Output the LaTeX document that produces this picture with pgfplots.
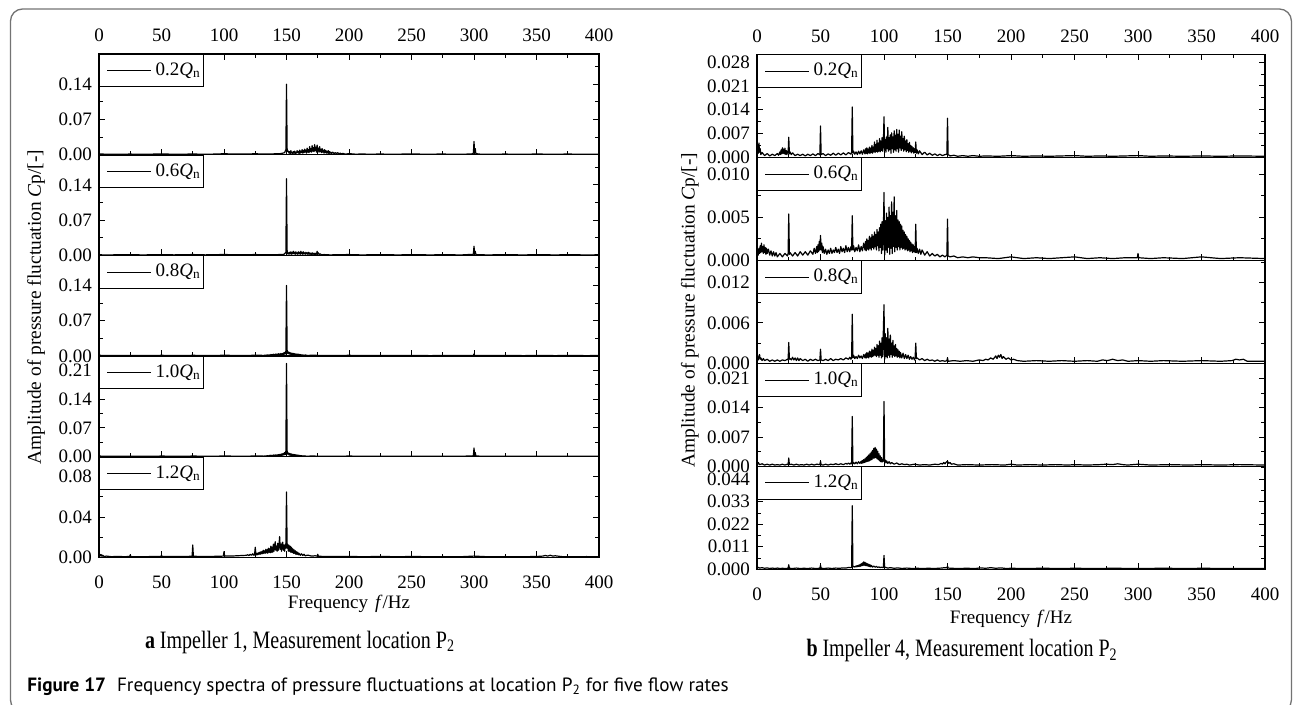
\documentclass[border=0pt]{standalone}
\usepackage{pgfplots}
\pgfplotsset{compat=1.18}
\usepackage{fontspec}
\setmainfont{Liberation Serif}
\newfontfamily\capfont{PT Sans}
\begin{document}
\begin{tikzpicture}
\useasboundingbox (0pt,0pt) rectangle (647.5pt,-352.5pt);
\pgfplotsset{
  sp/.style={scale only axis, anchor=north west, xmin=0, xmax=400, ymin=0,
    xtick={0,50,...,400}, minor x tick num=1,
    tick align=inside, major tick length=3pt, minor tick length=1.8pt,
    every tick/.style={black, line width=0.45pt},
    axis line style={line width=0.6pt},
    yticklabel pos=left,
    ticklabel style={font=\fontsize{9.5}{11}\selectfont},
    /pgf/number format/assume math mode=true,
    scaled y ticks=false,
    legend style={at={(0,1)}, anchor=north west, draw=black, line width=0.5pt, fill=white,
      font=\fontsize{9.5}{11}\selectfont, inner xsep=1pt, inner ysep=2.2pt,
      nodes={inner xsep=0.5pt, inner ysep=2pt}},
    legend cell align=left,
    legend image code/.code={\path (0pt,0pt); \draw[black, line width=0.5pt] (2.5pt,0pt) -- (24.5pt,0pt); \path (26pt,0pt);},
  },
  spL/.style={sp, width=250pt, height=50.33pt,
    yticklabel style={/pgf/number format/.cd, fixed, fixed zerofill, precision=2}},
  spR/.style={sp, width=254pt, height=51.5pt,
    yticklabel style={/pgf/number format/.cd, fixed, fixed zerofill, precision=3}},
  topx/.style={xticklabel pos=top, xtick pos=both, xticklabel style={yshift=2.5pt}},
  midx/.style={xtick pos=bottom, xticklabels={}},
  botx/.style={xtick pos=bottom, xticklabel style={yshift=-5.5pt}},
  spec/.style={black, line width=0.6pt, line join=round, mark=none},
}
% ---------------- left panel: Impeller 1 ----------------
\begin{axis}[spL, at={(49.5pt,-27pt)}, topx, ymax=0.2, ytick={0,0.07,0.14}, minor ytick={0.035,0.105,0.175}]
\addplot[spec] table[row sep=\\]{x y\\
0 0.003\\0.5 0.001\\2 0.0015\\5 0.0008\\10 0.001\\15 0.0006\\20 0.0009\\25 0.0012\\30 0.0007\\40 0.0009\\50 0.0015\\60 0.0008\\70 0.001\\75 0.0016\\80 0.0009\\90 0.001\\100 0.0018\\110 0.0011\\120 0.0013\\125 0.0019\\130 0.0012\\140 0.0016\\145 0.002\\147 0.003\\148.5 0.004\\149.5 0.01\\150 0.14\\150.5 0.012\\151 0.006\\
151.5 0.007\\152 0.003\\152.5 0.006\\153 0.002\\153.5 0.008\\154 0.003\\154.5 0.005\\155 0.002\\155.5 0.006\\156 0.003\\156.5 0.007\\157 0.002\\157.5 0.005\\158 0.003\\158.5 0.008\\159 0.004\\159.5 0.006\\160 0.002\\160.5 0.009\\161 0.003\\161.5 0.007\\162 0.004\\162.5 0.01\\163 0.003\\163.5 0.008\\164 0.004\\164.5 0.011\\165 0.005\\165.5 0.009\\166 0.003\\166.5 0.013\\167 0.005\\167.5 0.01\\168 0.004\\168.5 0.016\\169 0.006\\169.5 0.012\\170 0.005\\170.5 0.018\\171 0.007\\171.5 0.014\\172 0.006\\172.5 0.02\\173 0.008\\173.5 0.015\\174 0.005\\174.5 0.019\\175 0.007\\175.5 0.013\\176 0.005\\176.5 0.016\\177 0.006\\177.5 0.011\\178 0.004\\178.5 0.012\\179 0.005\\179.5 0.009\\180 0.003\\180.5 0.01\\181 0.004\\181.5 0.008\\182 0.003\\182.5 0.007\\183 0.003\\183.5 0.008\\184 0.002\\184.5 0.006\\185 0.003\\185.5 0.005\\186 0.002\\187 0.005\\188 0.002\\189 0.004\\190 0.002\\191 0.004\\192 0.0015\\193 0.003\\194 0.0015\\195 0.0025\\197 0.001\\200 0.002\\205 0.001\\210 0.0012\\220 0.0009\\225 0.0015\\230 0.0008\\240 0.001\\250 0.0015\\260 0.0009\\270 0.0011\\275 0.0014\\280 0.0008\\290 0.001\\298 0.0012\\299.5 0.003\\300 0.026\\300.5 0.004\\301 0.012\\301.5 0.002\\305 0.001\\315 0.0008\\325 0.0012\\335 0.0007\\345 0.001\\350 0.0014\\360 0.0008\\370 0.001\\375 0.0013\\385 0.0007\\395 0.001\\400 0.0008\\
};
\addlegendentry{0.2\textit{Q}\textsubscript{n}}
\end{axis}
\begin{axis}[spL, at={(49.5pt,-77.33pt)}, midx, ymax=0.2, ytick={0,0.07,0.14}, minor ytick={0.035,0.105,0.175}]
\addplot[spec] table[row sep=\\]{x y\\
0 0.002\\1 0.001\\5 0.0008\\15 0.001\\25 0.0013\\35 0.0008\\50 0.0014\\60 0.0009\\75 0.0015\\85 0.0009\\100 0.0016\\110 0.001\\125 0.0015\\135 0.001\\145 0.0015\\148 0.002\\149.5 0.006\\150 0.152\\150.5 0.01\\151 0.003\\
151.5 0.005\\152 0.002\\152.5 0.006\\153 0.003\\153.5 0.007\\154 0.002\\154.5 0.006\\155 0.003\\155.5 0.008\\156 0.003\\156.5 0.006\\157 0.002\\157.5 0.007\\158 0.003\\158.5 0.005\\159 0.002\\159.5 0.007\\160 0.003\\160.5 0.006\\161 0.002\\161.5 0.008\\162 0.003\\162.5 0.006\\163 0.002\\163.5 0.007\\164 0.003\\164.5 0.005\\165 0.002\\165.5 0.006\\166 0.003\\166.5 0.005\\167 0.002\\167.5 0.006\\168 0.002\\168.5 0.005\\169 0.002\\169.5 0.004\\170 0.002\\170.5 0.005\\171 0.002\\171.5 0.004\\172 0.002\\172.5 0.004\\173 0.0015\\173.5 0.004\\174 0.002\\174.5 0.008\\175 0.003\\175.5 0.005\\176 0.0015\\177 0.003\\178 0.001\\180 0.0015\\185 0.0008\\190 0.0012\\200 0.0015\\210 0.0008\\225 0.0013\\240 0.0008\\250 0.0014\\265 0.0008\\275 0.0012\\290 0.0008\\299.5 0.002\\300 0.018\\300.5 0.003\\301 0.008\\301.5 0.0015\\310 0.0008\\325 0.0012\\340 0.0008\\350 0.0013\\365 0.0008\\375 0.0012\\390 0.0008\\400 0.001\\
};
\addlegendentry{0.6\textit{Q}\textsubscript{n}}
\end{axis}
\begin{axis}[spL, at={(49.5pt,-127.66pt)}, midx, ymax=0.2, ytick={0,0.07,0.14}, minor ytick={0.035,0.105,0.175},
  ylabel={Amplitude of pressure fluctuation \textit{C}p/[-]},
  ylabel style={at={(axis description cs:-0.126,0.486)}, anchor=center, font=\fontsize{9.7}{11}\selectfont}]
\addplot[spec] table[row sep=\\]{x y\\
0 0.002\\2 0.001\\10 0.0008\\25 0.0012\\40 0.0008\\50 0.0013\\65 0.0008\\75 0.0013\\90 0.0009\\100 0.0014\\115 0.0009\\125 0.0014\\132 0.0012\\135 0.002\\
136 0.0015\\136.5 0.0025\\137 0.0012\\137.5 0.003\\138 0.0015\\138.5 0.0028\\139 0.0012\\139.5 0.0035\\140 0.0015\\140.5 0.003\\141 0.0018\\141.5 0.004\\142 0.002\\142.5 0.0035\\143 0.0018\\143.5 0.0045\\144 0.002\\144.5 0.004\\145 0.0022\\145.5 0.005\\146 0.0025\\146.5 0.0045\\147 0.0025\\147.5 0.006\\148 0.003\\148.5 0.007\\149 0.004\\149.5 0.01\\150 0.14\\150.5 0.012\\151 0.005\\151.5 0.008\\152 0.004\\152.5 0.007\\153 0.003\\153.5 0.006\\154 0.003\\154.5 0.0055\\155 0.0025\\155.5 0.005\\156 0.0025\\156.5 0.0045\\157 0.002\\157.5 0.004\\158 0.002\\158.5 0.0038\\159 0.0018\\159.5 0.0035\\160 0.0015\\160.5 0.003\\161 0.0015\\161.5 0.0028\\162 0.0012\\163 0.0022\\164 0.001\\165 0.002\\167 0.001\\170 0.0015\\175 0.0012\\180 0.0008\\190 0.001\\200 0.0013\\215 0.0008\\225 0.0012\\240 0.0008\\250 0.0012\\265 0.0007\\275 0.001\\290 0.0008\\299.5 0.0012\\300 0.004\\300.5 0.001\\310 0.0008\\325 0.0011\\340 0.0007\\350 0.0012\\365 0.0007\\375 0.001\\390 0.0007\\400 0.0009\\
};
\addlegendentry{0.8\textit{Q}\textsubscript{n}}
\end{axis}
\begin{axis}[spL, at={(49.5pt,-177.99pt)}, midx, ymax=0.245, ytick={0,0.07,0.14,0.21}, minor ytick={0.035,0.105,0.175}]
\addplot[spec] table[row sep=\\]{x y\\
0 0.002\\2 0.001\\10 0.0009\\25 0.0013\\40 0.0008\\50 0.0014\\65 0.0009\\75 0.0014\\90 0.001\\100 0.0015\\115 0.001\\125 0.0015\\132 0.0013\\135 0.0022\\
136 0.0015\\136.5 0.003\\137 0.0015\\137.5 0.0035\\138 0.0018\\138.5 0.003\\139 0.0015\\139.5 0.004\\140 0.002\\140.5 0.0038\\141 0.002\\141.5 0.0045\\142 0.0022\\142.5 0.004\\143 0.002\\143.5 0.005\\144 0.0025\\144.5 0.0055\\145 0.0025\\145.5 0.006\\146 0.003\\146.5 0.007\\147 0.0035\\147.5 0.008\\148 0.004\\148.5 0.01\\149 0.005\\149.5 0.014\\150 0.227\\150.5 0.014\\151 0.006\\151.5 0.009\\152 0.004\\152.5 0.008\\153 0.003\\153.5 0.007\\154 0.003\\154.5 0.006\\155 0.0025\\155.5 0.0055\\156 0.0025\\156.5 0.005\\157 0.002\\157.5 0.0045\\158 0.002\\158.5 0.004\\159 0.0018\\159.5 0.0035\\160 0.0015\\160.5 0.003\\161 0.0015\\162 0.0025\\163 0.0012\\164 0.002\\166 0.001\\170 0.0015\\175 0.0012\\180 0.0009\\190 0.001\\200 0.0014\\215 0.0009\\225 0.0013\\240 0.0009\\250 0.0013\\265 0.0008\\275 0.0012\\290 0.0009\\299.5 0.002\\300 0.021\\300.5 0.003\\301 0.01\\301.5 0.0015\\310 0.0009\\325 0.0012\\340 0.0008\\350 0.0013\\365 0.0008\\375 0.0011\\390 0.0008\\400 0.001\\
};
\addlegendentry{1.0\textit{Q}\textsubscript{n}}
\end{axis}
\begin{axis}[spL, at={(49.5pt,-228.32pt)}, botx, ymax=0.1, ytick={0,0.04,0.08}, minor ytick={0.02,0.06,0.1},
  xlabel={Frequency\hspace{3.5pt}\textit{f}/Hz},
  xlabel style={at={(axis description cs:0.5,-0.467)}, anchor=center, font=\fontsize{9.5}{11}\selectfont}]
\addplot[spec] table[row sep=\\]{x y\\
0 0.003\\0.5 0.0015\\1 0.0028\\1.5 0.0012\\2 0.0025\\2.5 0.001\\3 0.002\\4 0.0008\\6 0.0012\\10 0.0006\\15 0.0009\\20 0.0006\\24.5 0.0008\\25 0.0025\\25.5 0.0007\\35 0.0006\\45 0.0008\\49.5 0.0008\\50 0.0022\\50.5 0.0008\\60 0.0007\\70 0.0009\\74.5 0.001\\75 0.0122\\75.5 0.001\\85 0.0008\\95 0.001\\99.5 0.0012\\100 0.0056\\100.5 0.0012\\105 0.0012\\110 0.0015\\115 0.0018\\118 0.002\\119 0.0025\\120 0.0018\\121 0.003\\122 0.002\\123 0.0035\\124 0.002\\124.5 0.003\\125 0.01\\125.5 0.003\\126 0.0025\\126.5 0.004\\127 0.0025\\127.5 0.0045\\128 0.003\\128.5 0.005\\129 0.003\\129.5 0.0055\\130 0.0035\\130.5 0.006\\131 0.0035\\131.5 0.007\\132 0.004\\132.5 0.0065\\133 0.004\\133.5 0.008\\134 0.0045\\134.5 0.0075\\135 0.004\\135.5 0.009\\136 0.005\\136.5 0.0085\\137 0.0045\\137.5 0.011\\138 0.005\\138.5 0.01\\139 0.005\\139.5 0.013\\140 0.006\\140.5 0.012\\141 0.0155\\141.5 0.007\\142 0.011\\142.5 0.006\\143 0.014\\143.5 0.007\\144 0.012\\144.5 0.0205\\145 0.008\\145.5 0.013\\146 0.006\\146.5 0.014\\147 0.015\\147.5 0.007\\148 0.012\\148.5 0.006\\149 0.013\\149.5 0.009\\150 0.065\\150.5 0.009\\151 0.013\\151.5 0.006\\152 0.012\\152.5 0.006\\153 0.011\\153.5 0.005\\154 0.01\\154.5 0.005\\155 0.0085\\155.5 0.004\\156 0.0075\\156.5 0.004\\157 0.0065\\157.5 0.003\\158 0.0055\\158.5 0.003\\159 0.005\\159.5 0.0025\\160 0.004\\161 0.002\\162 0.0035\\163 0.0018\\164 0.003\\165 0.0015\\167 0.0022\\170 0.0012\\173 0.0015\\174.5 0.0012\\175 0.003\\175.5 0.001\\180 0.0009\\190 0.0007\\200 0.0009\\210 0.0006\\225 0.0008\\240 0.0006\\250 0.0008\\265 0.0006\\275 0.0007\\290 0.0006\\300 0.0012\\310 0.0006\\325 0.0007\\340 0.0006\\350 0.0008\\355 0.0012\\357 0.0018\\359 0.0012\\361 0.002\\363 0.0012\\365 0.0015\\370 0.0007\\380 0.0006\\390 0.0007\\400 0.0006\\
};
\addlegendentry{1.2\textit{Q}\textsubscript{n}}
\end{axis}
% ---------------- right panel: Impeller 4 ----------------
\begin{axis}[spR, at={(378.5pt,-27.15pt)}, topx, ymax=0.0303, ytick={0,0.007,0.014,0.021,0.028}, minor ytick={0.0035,0.0105,0.0175,0.0245}]
\addplot[spec] table[row sep=\\]{x y\\
0 0.0015\\0.5 0.003\\1 0.0012\\1.5 0.0042\\2 0.0015\\2.5 0.0025\\3 0.0008\\4 0.0014\\6 0.0005\\8 0.0011\\10 0.0004\\12 0.0009\\14 0.0005\\16 0.0011\\17 0.0006\\18 0.0016\\18.5 0.0008\\19 0.0022\\19.5 0.001\\20 0.0028\\20.5 0.0012\\21 0.0024\\21.5 0.001\\22 0.0027\\22.5 0.0009\\23 0.002\\23.5 0.0008\\24 0.0018\\24.5 0.0012\\25 0.0059\\25.5 0.001\\26 0.0016\\27 0.0008\\28 0.0013\\30 0.0005\\32 0.0009\\34 0.0005\\36 0.0009\\38 0.0004\\40 0.0009\\42 0.0005\\44 0.001\\46 0.0005\\48 0.0011\\49.5 0.0007\\50 0.0092\\50.5 0.0008\\52 0.0011\\54 0.0005\\56 0.001\\58 0.0006\\60 0.0012\\62 0.0006\\64 0.0012\\66 0.0007\\68 0.0013\\70 0.0007\\72 0.0014\\74 0.0009\\74.5 0.0016\\75 0.0148\\75.5 0.0012\\76 0.0018\\77 0.0009\\78 0.0016\\79 0.0008\\80 0.0018\\81 0.001\\82 0.0019\\83 0.0009\\84 0.0022\\85 0.001\\
85.5 0.0025\\86 0.0012\\86.5 0.0028\\87 0.001\\87.5 0.0024\\88 0.0013\\88.5 0.003\\89 0.0011\\89.5 0.0027\\90 0.0014\\90.5 0.0035\\91 0.0012\\91.5 0.003\\92 0.0016\\92.5 0.0045\\93 0.0014\\93.5 0.0038\\94 0.0017\\94.5 0.005\\95 0.0015\\95.5 0.0042\\96 0.0018\\96.5 0.0055\\97 0.0016\\97.5 0.0048\\98 0.002\\98.5 0.0058\\99 0.0018\\99.5 0.004\\100 0.0119\\100.5 0.002\\101 0.0052\\101.5 0.0015\\102 0.006\\102.5 0.0025\\103 0.0088\\103.5 0.0018\\104 0.0058\\104.5 0.0022\\105 0.0066\\105.5 0.0012\\106 0.0072\\106.5 0.0025\\107 0.006\\107.5 0.0015\\108 0.0078\\108.5 0.0022\\109 0.0065\\109.5 0.0018\\110 0.0082\\110.5 0.0025\\111 0.0068\\111.5 0.0015\\112 0.008\\112.5 0.0028\\113 0.0062\\113.5 0.002\\114 0.0075\\114.5 0.0025\\115 0.0055\\115.5 0.0018\\116 0.0062\\116.5 0.0022\\117 0.0048\\117.5 0.0016\\118 0.0052\\118.5 0.002\\119 0.004\\119.5 0.0015\\120 0.0044\\120.5 0.0018\\121 0.0035\\121.5 0.0013\\122 0.0032\\122.5 0.0016\\123 0.0028\\123.5 0.0012\\124 0.0025\\124.5 0.0014\\125 0.0045\\125.5 0.0012\\
126 0.0022\\127 0.001\\128 0.0019\\130 0.0008\\132 0.0015\\134 0.0007\\136 0.0012\\138 0.0006\\140 0.001\\142 0.0005\\144 0.0009\\146 0.0005\\148 0.0008\\149.5 0.0009\\150 0.0115\\150.5 0.0008\\152 0.0004\\155 0.0006\\158 0.0003\\162 0.0005\\166 0.0003\\170 0.0005\\175 0.0003\\180 0.0004\\190 0.0003\\200 0.0005\\210 0.0003\\220 0.0004\\230 0.0003\\240 0.0004\\250 0.0005\\260 0.0003\\270 0.0004\\280 0.0003\\290 0.0004\\300 0.0005\\310 0.0003\\320 0.0004\\335 0.0003\\350 0.0004\\365 0.0003\\380 0.0004\\400 0.0003\\
};
\addlegendentry{0.2\textit{Q}\textsubscript{n}}
\end{axis}
\begin{axis}[spR, at={(378.5pt,-78.65pt)}, midx, ymax=0.012, ytick={0,0.005,0.010}, minor ytick={0.0025,0.0075}]
\addplot[spec] table[row sep=\\]{x y\\
0 0.0008\\0.5 0.0012\\1 0.0006\\1.5 0.0014\\2 0.0008\\2.5 0.0017\\3 0.0009\\3.5 0.002\\4 0.001\\4.5 0.0016\\5 0.0008\\5.5 0.0018\\6 0.0009\\6.5 0.0015\\7 0.0007\\7.5 0.0014\\8 0.0008\\9 0.0013\\10 0.0006\\11 0.0011\\12 0.0005\\13 0.001\\14 0.0005\\15 0.0009\\16 0.0004\\18 0.0008\\20 0.0004\\22 0.0008\\24 0.0005\\24.5 0.0008\\25 0.0054\\25.5 0.0007\\26 0.0009\\28 0.0005\\30 0.0009\\32 0.0005\\34 0.001\\36 0.0006\\38 0.001\\40 0.0006\\42 0.0011\\44 0.0007\\45 0.0014\\46 0.0008\\47 0.0016\\47.5 0.0009\\48 0.0018\\48.5 0.001\\49 0.0022\\49.5 0.0012\\50 0.0029\\50.5 0.0012\\51 0.002\\51.5 0.0009\\52 0.0016\\53 0.0008\\54 0.0013\\55 0.0007\\56 0.0012\\57 0.0008\\58 0.0014\\59 0.0008\\60 0.0012\\61 0.0009\\62 0.0015\\63 0.0009\\64 0.0013\\65 0.0008\\66 0.0016\\67 0.001\\68 0.0014\\69 0.0009\\70 0.0017\\71 0.001\\72 0.0015\\73 0.001\\74 0.0016\\74.5 0.0012\\75 0.0052\\75.5 0.0012\\76 0.0017\\77 0.001\\78 0.0015\\79 0.0011\\80 0.0018\\81 0.001\\82 0.0016\\83 0.0011\\84 0.002\\85 0.0012\\
85.5 0.0022\\86 0.0011\\86.5 0.0025\\87 0.0013\\87.5 0.0023\\88 0.0012\\88.5 0.0028\\89 0.0014\\89.5 0.0026\\90 0.0012\\90.5 0.003\\91 0.0015\\91.5 0.0028\\92 0.0013\\92.5 0.0033\\93 0.0016\\93.5 0.003\\94 0.0012\\94.5 0.0036\\95 0.0017\\95.5 0.0033\\96 0.0011\\96.5 0.0038\\97 0.0015\\97.5 0.0042\\98 0.0008\\98.5 0.0045\\99 0.0012\\99.5 0.0035\\100 0.0079\\100.5 0.0006\\101 0.0046\\101.5 0.0012\\102 0.0055\\102.5 0.0009\\103 0.005\\103.5 0.0015\\104 0.0062\\104.5 0.0007\\105 0.0052\\105.5 0.0014\\106 0.0068\\106.5 0.0008\\107 0.0056\\107.5 0.0016\\108 0.0074\\108.5 0.001\\109 0.0052\\109.5 0.0015\\110 0.0058\\110.5 0.0012\\111 0.0047\\111.5 0.0016\\112 0.0045\\112.5 0.0012\\113 0.0042\\113.5 0.0015\\114 0.004\\114.5 0.0013\\115 0.0035\\115.5 0.0014\\116 0.0033\\116.5 0.0012\\117 0.003\\117.5 0.0013\\118 0.0028\\118.5 0.0011\\119 0.0025\\119.5 0.0012\\120 0.0023\\120.5 0.001\\121 0.0021\\121.5 0.0011\\122 0.0019\\122.5 0.0009\\123 0.0018\\123.5 0.001\\124 0.0016\\124.5 0.0009\\125 0.0042\\125.5 0.0009\\
126 0.0014\\127 0.0008\\128 0.0013\\129 0.0007\\130 0.0012\\132 0.0006\\134 0.001\\136 0.0005\\138 0.0008\\140 0.0005\\142 0.0007\\144 0.0004\\146 0.0006\\148 0.0004\\149.5 0.0006\\150 0.0048\\150.5 0.0005\\152 0.0004\\155 0.0005\\158 0.0003\\162 0.0004\\166 0.0003\\170 0.0004\\175 0.0003\\180 0.0003\\190 0.0002\\200 0.0004\\210 0.0002\\220 0.0003\\230 0.0002\\240 0.0003\\250 0.0004\\260 0.0002\\270 0.0003\\280 0.0002\\290 0.0003\\299.5 0.0003\\300 0.0008\\300.5 0.0003\\310 0.0002\\320 0.0003\\335 0.0002\\350 0.0004\\365 0.0002\\380 0.0003\\400 0.0002\\
};
\addlegendentry{0.6\textit{Q}\textsubscript{n}}
\end{axis}
\begin{axis}[spR, at={(378.5pt,-130.15pt)}, midx, ymax=0.0153, ytick={0,0.006,0.012}, minor ytick={0.003,0.009,0.015},
  ylabel={Amplitude of pressure fluctuation \textit{C}p/[-]},
  ylabel style={at={(axis description cs:-0.132,0.517)}, anchor=center, font=\fontsize{9.7}{11}\selectfont}]
\addplot[spec] table[row sep=\\]{x y\\
0 0.0006\\0.5 0.0009\\1 0.0005\\1.5 0.0011\\2 0.0013\\2.5 0.0006\\3 0.0008\\4 0.0004\\5 0.0007\\6 0.0004\\8 0.0006\\10 0.0003\\12 0.0005\\14 0.0003\\16 0.0005\\18 0.0003\\20 0.0005\\22 0.0004\\24 0.0006\\24.5 0.0005\\25 0.0031\\25.5 0.0006\\26 0.0007\\27 0.0005\\28 0.0009\\29 0.0005\\30 0.0008\\31 0.0004\\32 0.0008\\33 0.0004\\34 0.0007\\36 0.0004\\38 0.0006\\40 0.0003\\42 0.0006\\44 0.0004\\46 0.0006\\48 0.0004\\49.5 0.0005\\50 0.0021\\50.5 0.0005\\52 0.0004\\54 0.0006\\56 0.0004\\58 0.0007\\60 0.0004\\62 0.0006\\64 0.0005\\66 0.0007\\68 0.0005\\70 0.0008\\72 0.0006\\73 0.0009\\74 0.0006\\74.5 0.0009\\75 0.0073\\75.5 0.0008\\76 0.0012\\77 0.0007\\78 0.001\\79 0.0007\\80 0.0012\\81 0.0008\\82 0.0011\\83 0.0007\\84 0.0013\\85 0.0008\\
85.5 0.0014\\86 0.0008\\86.5 0.0016\\87 0.0009\\87.5 0.0015\\88 0.0008\\88.5 0.0018\\89 0.001\\89.5 0.0017\\90 0.0009\\90.5 0.0021\\91 0.001\\91.5 0.0019\\92 0.0011\\92.5 0.0024\\93 0.0012\\93.5 0.0022\\94 0.001\\94.5 0.0028\\95 0.0012\\95.5 0.0026\\96 0.0009\\96.5 0.0033\\97 0.0012\\97.5 0.003\\98 0.0008\\98.5 0.0038\\99 0.001\\99.5 0.005\\100 0.0087\\100.5 0.0006\\101 0.0044\\101.5 0.001\\102 0.0038\\102.5 0.0008\\103 0.0052\\103.5 0.0012\\104 0.0036\\104.5 0.0009\\105 0.0042\\105.5 0.0013\\106 0.003\\106.5 0.0009\\107 0.0034\\107.5 0.0012\\108 0.0026\\108.5 0.001\\109 0.0028\\109.5 0.0011\\110 0.0022\\110.5 0.0009\\111 0.002\\111.5 0.001\\112 0.0018\\112.5 0.0008\\113 0.0016\\114 0.0008\\115 0.0015\\116 0.0007\\117 0.0013\\118 0.0007\\119 0.0012\\120 0.0006\\121 0.001\\122 0.0006\\123 0.0009\\124 0.0005\\124.5 0.0008\\125 0.003\\125.5 0.0007\\
126 0.0008\\128 0.0005\\130 0.0007\\132 0.0004\\134 0.0006\\136 0.0004\\138 0.0005\\140 0.0003\\142 0.0005\\144 0.0003\\146 0.0004\\148 0.0003\\149.5 0.0004\\150 0.0008\\150.5 0.0003\\155 0.0004\\160 0.0003\\165 0.0004\\170 0.0003\\175 0.0005\\178 0.0004\\180 0.0006\\182 0.0005\\184 0.0008\\186 0.0006\\188 0.0011\\189 0.0007\\190 0.0012\\191 0.0009\\192 0.0013\\193 0.0007\\194 0.001\\196 0.0006\\198 0.0008\\200 0.0005\\202 0.0006\\205 0.0004\\210 0.0003\\220 0.0004\\230 0.0003\\240 0.0004\\250 0.0003\\260 0.0004\\268 0.0003\\272 0.0005\\276 0.0004\\280 0.0006\\284 0.0004\\288 0.0005\\292 0.0003\\300 0.0004\\310 0.0003\\320 0.0004\\335 0.0003\\350 0.0004\\365 0.0003\\374 0.0004\\377 0.0006\\380 0.0005\\383 0.0006\\386 0.0003\\400 0.0003\\
};
\addlegendentry{0.8\textit{Q}\textsubscript{n}}
\end{axis}
\begin{axis}[spR, at={(378.5pt,-181.65pt)}, midx, ymax=0.0246, ytick={0,0.007,0.014,0.021}, minor ytick={0.0035,0.0105,0.0175}]
\addplot[spec] table[row sep=\\]{x y\\
0 0.0008\\0.5 0.0005\\1 0.0009\\2 0.0004\\4 0.0006\\6 0.0003\\8 0.0005\\10 0.0003\\12 0.0005\\14 0.0003\\16 0.0004\\18 0.0003\\20 0.0005\\22 0.0003\\24 0.0005\\24.5 0.0004\\25 0.002\\25.5 0.0004\\27 0.0005\\29 0.0003\\31 0.0005\\33 0.0003\\35 0.0004\\37 0.0003\\39 0.0005\\41 0.0003\\43 0.0005\\45 0.0003\\47 0.0005\\49.5 0.0004\\50 0.0012\\50.5 0.0004\\52 0.0003\\54 0.0005\\56 0.0003\\58 0.0005\\60 0.0004\\62 0.0006\\64 0.0004\\66 0.0006\\68 0.0004\\70 0.0007\\71 0.0005\\72 0.0008\\73 0.0005\\74 0.0008\\74.5 0.0006\\75 0.0119\\75.5 0.0006\\76 0.0009\\77 0.0006\\78 0.001\\79 0.0006\\80 0.0011\\81 0.0007\\82 0.0012\\82.5 0.0007\\83 0.0014\\83.5 0.0008\\84 0.0016\\84.5 0.0009\\85 0.0018\\85.5 0.001\\86 0.0021\\86.5 0.0011\\87 0.0024\\87.5 0.0012\\88 0.0027\\88.5 0.0013\\89 0.003\\89.5 0.0015\\90 0.0034\\90.5 0.0016\\91 0.0038\\91.5 0.0019\\92 0.0043\\92.5 0.002\\93 0.0045\\93.5 0.0021\\94 0.0041\\94.5 0.0018\\95 0.0036\\95.5 0.0016\\96 0.003\\96.5 0.0013\\97 0.0025\\97.5 0.0011\\98 0.0021\\98.5 0.001\\99 0.0017\\99.5 0.0012\\100 0.0155\\100.5 0.0011\\101 0.0015\\101.5 0.0008\\102 0.0013\\103 0.0007\\104 0.0011\\105 0.0006\\106 0.0009\\108 0.0005\\110 0.0008\\112 0.0004\\114 0.0006\\116 0.0004\\118 0.0005\\120 0.0003\\124 0.0005\\128 0.0003\\132 0.0004\\136 0.0003\\140 0.0005\\143 0.0004\\145 0.0007\\146 0.0005\\147 0.0009\\148 0.0006\\149 0.001\\150 0.0012\\151 0.0007\\152 0.0009\\153 0.0005\\155 0.0006\\158 0.0003\\165 0.0004\\175 0.0003\\185 0.0004\\195 0.0003\\200 0.0005\\205 0.0003\\215 0.0004\\225 0.0003\\235 0.0004\\245 0.0003\\250 0.0004\\260 0.0003\\270 0.0004\\275 0.0005\\280 0.0004\\284 0.0006\\288 0.0004\\292 0.0003\\300 0.0005\\310 0.0003\\325 0.0004\\340 0.0003\\350 0.0004\\365 0.0003\\380 0.0004\\400 0.0003\\
};
\addlegendentry{1.0\textit{Q}\textsubscript{n}}
\end{axis}
\begin{axis}[spR, at={(378.5pt,-233.15pt)}, botx, ymax=0.0503, ytick={0,0.011,0.022,0.033,0.044}, minor ytick={0.0055,0.0165,0.0275,0.0385,0.0495},
  xlabel={Frequency\hspace{3.5pt}\textit{f}/Hz},
  xlabel style={at={(axis description cs:0.5,-0.483)}, anchor=center, font=\fontsize{9.5}{11}\selectfont}]
\addplot[spec] table[row sep=\\]{x y\\
0 0.0012\\0.5 0.0007\\1 0.001\\2 0.0006\\4 0.0008\\6 0.0005\\8 0.0007\\10 0.0004\\12 0.0006\\14 0.0004\\16 0.0006\\18 0.0004\\20 0.0005\\22 0.0004\\24.5 0.0005\\25 0.0022\\25.5 0.0005\\28 0.0004\\31 0.0006\\34 0.0004\\37 0.0005\\40 0.0004\\43 0.0006\\46 0.0004\\49.5 0.0005\\50 0.002\\50.5 0.0005\\53 0.0004\\56 0.0006\\59 0.0004\\62 0.0006\\65 0.0005\\68 0.0007\\70 0.0006\\72 0.0009\\74 0.0008\\74.5 0.001\\75 0.031\\75.5 0.0012\\76 0.0014\\77 0.0011\\78 0.0016\\78.5 0.0012\\79 0.0018\\79.5 0.0013\\80 0.002\\80.5 0.0014\\81 0.0023\\81.5 0.0015\\82 0.0027\\82.5 0.0017\\83 0.0031\\83.5 0.0019\\84 0.0036\\84.5 0.002\\85 0.0034\\85.5 0.0018\\86 0.003\\86.5 0.0017\\87 0.0027\\87.5 0.0015\\88 0.0025\\88.5 0.0013\\89 0.0022\\89.5 0.0012\\90 0.0019\\91 0.0011\\92 0.0016\\93 0.001\\94 0.0014\\95 0.0009\\96 0.0012\\97 0.0008\\98 0.0011\\99 0.0008\\99.5 0.0009\\100 0.0068\\100.5 0.0008\\101 0.001\\103 0.0006\\105 0.0008\\108 0.0005\\111 0.0007\\114 0.0004\\118 0.0006\\122 0.0004\\126 0.0005\\130 0.0004\\135 0.0005\\140 0.0004\\145 0.0006\\148 0.0008\\149.5 0.0007\\150 0.0016\\150.5 0.0006\\153 0.0005\\158 0.0004\\165 0.0005\\172 0.0004\\176 0.0007\\180 0.0005\\184 0.0008\\188 0.0005\\192 0.0007\\196 0.0004\\200 0.0005\\210 0.0004\\225 0.0005\\240 0.0004\\250 0.0005\\265 0.0004\\280 0.0005\\300 0.0004\\320 0.0005\\340 0.0004\\350 0.0005\\370 0.0004\\400 0.0004\\
};
\addlegendentry{1.2\textit{Q}\textsubscript{n}}
\end{axis}
% ---------------- captions and frame ----------------
\node[anchor=base, inner sep=0pt] at (150pt,-324pt)
  {\scalebox{0.8}[1]{\fontsize{12.5}{14}\selectfont\textbf{a}\hspace{3pt}Impeller 1, Measurement location P\textsubscript{2}}};
\node[anchor=base, inner sep=0pt] at (481pt,-328.3pt)
  {\scalebox{0.8}[1]{\fontsize{12.5}{14}\selectfont\textbf{b}\hspace{3pt}Impeller 4, Measurement location P\textsubscript{2}}};
\node[anchor=base west, inner sep=0pt] at (13.5pt,-345.8pt)
  {\capfont\fontsize{9.6}{12}\selectfont\textbf{Figure 17}\hspace{5.5pt}Frequency spectra of pressure fluctuations at location P\textsubscript{2} for five flow rates};
\draw[black!55, line width=0.65pt, rounded corners=6pt] (5.25pt,-4.5pt) rectangle (645.7pt,-356pt);
\end{tikzpicture}
\end{document}
